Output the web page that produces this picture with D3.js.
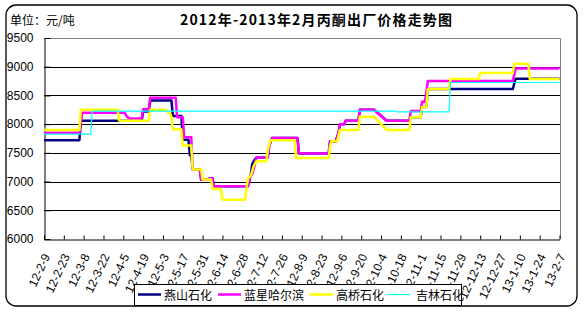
<!DOCTYPE html>
<html><head><meta charset="utf-8">
<script src="https://cdn.jsdelivr.net/npm/d3@7"></script>
<style>
html,body{margin:0;padding:0;background:#fff;}
svg{display:block;}
</style></head>
<body>
<svg id="chart" width="588" height="312"></svg>
<script>
// ---------------- data ----------------
const titleText = "2012年-2013年2月丙酮出厂价格走势图";
const unitText = "单位：元/吨";
const startDate = "2012-02-09";
const endDate = "2013-02-07";
const xTickLabels = ["12-2-9","12-2-23","12-3-8","12-3-22","12-4-5","12-4-19","12-5-3","12-5-17","12-5-31","12-6-14","12-6-28","12-7-12","12-7-26","12-8-9","12-8-23","12-9-6","12-9-20","12-10-4","12-10-18","12-11-1","12-11-15","12-11-29","12-12-13","12-12-27","13-1-10","13-1-24","13-2-7"];
const yTickValues = [6000,6500,7000,7500,8000,8500,9000,9500];
const seriesNames = ["燕山石化","蓝星哈尔滨","高桥石化","吉林石化"];

// day offsets from startDate, and price (元/吨)
const yanshanDays   = [0,25,26,69,70,74,75,90,91,97,98,102,103,104,105,110,111,116,117,119,120,144,146,147,148,150,158,159,161,179,180,201,202,206,208,209,212,213,222,223,233,242,258,259,266,267,270,271,331,333,364];
const yanshanValues = [7720,7720,8060,8060,8220,8220,8410,8410,8140,8140,7730,7730,7460,7460,7210,7210,7030,7030,7060,7060,6920,6920,7120,7300,7350,7420,7420,7620,7760,7760,7490,7490,7700,7700,7850,8000,8000,8060,8060,8250,8250,8060,8060,8120,8120,8300,8300,8610,8610,8790,8790];

const lanxingDays   = [0,25,27,57,58,60,69,70,74,75,93,94,98,99,104,105,110,111,116,117,119,120,144,145,147,149,150,158,159,161,179,180,201,202,206,208,209,212,213,222,223,233,242,258,259,266,267,269,270,271,331,333,364];
const lanxingValues = [7850,7850,8200,8200,8150,8100,8100,8260,8260,8460,8460,8120,8120,7770,7770,7210,7210,7030,7030,7060,7060,6920,6920,7050,7130,7300,7420,7420,7620,7760,7760,7490,7490,7700,7700,7850,8000,8000,8060,8060,8250,8250,8060,8060,8230,8230,8390,8390,8560,8750,8750,8970,8970];

const gaoqiaoDays   = [0,25,26,52,53,74,75,86,89,90,91,97,98,104,105,111,112,118,119,125,126,142,143,144,146,148,150,157,158,160,177,178,201,202,203,207,208,209,222,223,233,242,258,259,266,267,270,271,286,287,307,308,331,332,342,343,364];
const gaoqiaoValues = [7900,7900,8250,8250,8060,8060,8250,8250,8180,8130,7910,7910,7630,7630,7210,7210,7035,7035,6870,6870,6685,6685,6890,7050,7100,7270,7355,7355,7557,7720,7720,7410,7410,7615,7700,7700,7800,7900,7900,8130,8130,7900,7900,8120,8120,8300,8300,8610,8610,8785,8785,8890,8890,9050,9050,8785,8785];

const jilinDays   = [0,33,34,248,249,286,287,364];
const jilinValues = [7825,7825,8225,8225,8215,8215,8725,8725];

// ---------------- chart ----------------
const svg = d3.select("#chart");
const plot = {left:44, right:560, top:38, bottom:239};
const parse = d3.timeParse("%Y-%m-%d");
const start = parse(startDate), end = parse(endDate);
const x = d3.scaleTime().domain([start, end]).range([plot.left, plot.right - 0.5]);
const y = d3.scaleLinear().domain([6000, 9500]).range([plot.bottom, plot.top]);

// outer rounded frame
svg.append("rect").attr("x",6).attr("y",5).attr("width",571).attr("height",301)
  .attr("rx",10).attr("ry",10).attr("fill","#fff").attr("stroke","#000").attr("stroke-width",1.3);

// title and unit
svg.append("text").attr("x",180).attr("y",25).attr("textLength",272).attr("lengthAdjust","spacing")
  .attr("font-family","'Noto Sans CJK SC', sans-serif").attr("font-weight","bold").attr("font-size",14)
  .attr("fill","#000").text(titleText);
svg.append("text").attr("x",10).attr("y",25)
  .attr("font-family","'Noto Sans CJK SC', sans-serif").attr("font-size",12).attr("fill","#000").text(unitText);

// plot border (gray top/right)
svg.append("path").attr("d",`M${plot.left},${plot.top+0.5}H${plot.right+0.5}V${plot.bottom}`)
  .attr("fill","none").attr("stroke","#808080").attr("stroke-width",1);

// gridlines
svg.append("g").selectAll("line").data(yTickValues.filter(v => v > 6000 && v < 9500)).join("line")
  .attr("x1",plot.left).attr("x2",plot.right).attr("y1",d => Math.round(y(d))+0.5).attr("y2",d => Math.round(y(d))+0.5)
  .attr("stroke","#000").attr("stroke-width",1);

// y axis
const yAxis = d3.axisLeft(y).tickValues(yTickValues).tickFormat(d3.format("d"))
  .tickSizeInner(-6).tickSizeOuter(0).tickPadding(11);
const gy = svg.append("g").attr("transform",`translate(${plot.left+0.5},0)`).call(yAxis);
gy.select(".domain").attr("stroke","#000");
gy.selectAll(".tick line").attr("stroke","#000");
gy.selectAll("text").attr("font-family","'Liberation Sans', Arial, sans-serif").attr("font-size",12).attr("fill","#000");

// x axis
const tickDates = xTickLabels.map(s => { const [yy,m,d] = s.split("-").map(Number); return new Date(2000+yy, m-1, d); });
const xAxis = d3.axisBottom(x).tickValues(tickDates).tickFormat((d,i) => xTickLabels[i])
  .tickSizeInner(-4).tickSizeOuter(0).tickPadding(0);
const gx = svg.append("g").attr("transform",`translate(0,${plot.bottom+0.5})`).call(xAxis);
gx.select(".domain").attr("stroke","#000");
gx.selectAll(".tick line").attr("stroke","#000");
gx.selectAll("text")
  .attr("font-family","'Liberation Sans', Arial, sans-serif").attr("font-size",12).attr("fill","#000")
  .attr("text-anchor","end").attr("dy","0.35em").attr("y",0)
  .attr("transform","translate(2,15) rotate(-65)");

// series lines
const series = [
  {days: yanshanDays, values: yanshanValues, color:"#000080", width:2.5},
  {days: lanxingDays, values: lanxingValues, color:"#ff00ff", width:2.5},
  {days: gaoqiaoDays, values: gaoqiaoValues, color:"#ffff00", width:2.5},
  {days: jilinDays,   values: jilinValues,   color:"#00ffff", width:1.2}
];
const line = d3.line().x(d => x(d[0])).y(d => y(d[1]));
series.forEach(s => {
  const pts = s.days.map((dd,i) => [d3.timeDay.offset(start, dd), s.values[i]]);
  svg.append("path").datum(pts).attr("d",line).attr("fill","none")
    .attr("stroke",s.color).attr("stroke-width",s.width).attr("stroke-linejoin","round");
});

// legend
const lg = svg.append("g");
lg.append("rect").attr("x",134.5).attr("y",284.5).attr("width",327).attr("height",21)
  .attr("fill","#fff").attr("stroke","#000").attr("stroke-width",1);
const legendItems = [
  {lx:138, tx:164, color:"#000080", w:2.5},
  {lx:218, tx:244, color:"#ff00ff", w:2.5},
  {lx:310, tx:336, color:"#ffff00", w:2.5},
  {lx:387, tx:416, color:"#00ffff", w:1.2}
];
legendItems.forEach((it,i) => {
  lg.append("line").attr("x1",it.lx).attr("x2",it.lx+23).attr("y1",294.5).attr("y2",294.5)
    .attr("stroke",it.color).attr("stroke-width",it.w);
  lg.append("text").attr("x",it.tx).attr("y",299.5)
    .attr("font-family","'Noto Sans CJK SC', sans-serif").attr("font-size",12).attr("fill","#000").text(seriesNames[i]);
});
</script>
</body></html>
